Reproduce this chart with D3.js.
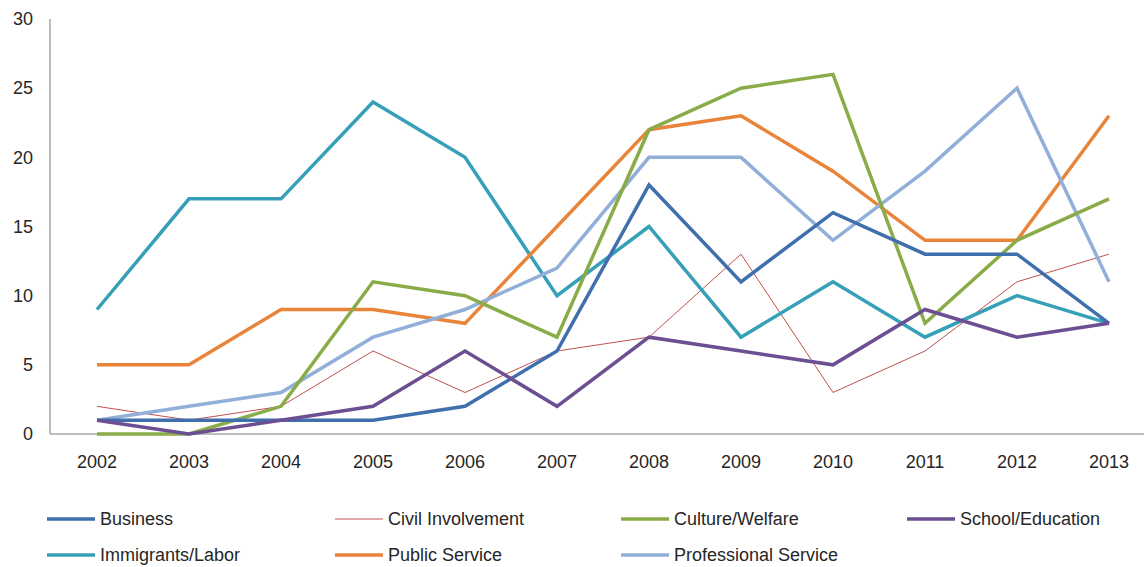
<!DOCTYPE html>
<html><head><meta charset="utf-8">
<script src="https://cdn.jsdelivr.net/npm/d3@7"></script>
<style>body{margin:0;background:#fff}svg{display:block}</style>
</head><body>
<svg id="chart" width="1144" height="567"></svg>
<script>
const years = ["2002","2003","2004","2005","2006","2007","2008","2009","2010","2011","2012","2013"];
const business = [1,1,1,1,2,6,18,11,16,13,13,8];
const civilInvolvement = [2,1,2,6,3,6,7,13,3,6,11,13];
const cultureWelfare = [0,0,2,11,10,7,22,25,26,8,14,17];
const schoolEducation = [1,0,1,2,6,2,7,6,5,9,7,8];
const immigrantsLabor = [9,17,17,24,20,10,15,7,11,7,10,8];
const publicService = [5,5,9,9,8,15,22,23,19,14,14,23];
const professionalService = [1,2,3,7,9,12,20,20,14,19,25,11];
const yTicks = [0,5,10,15,20,25,30];

const series = [
  {name:"Business", values:business, color:"#3f6fad", width:3.5},
  {name:"Civil Involvement", values:civilInvolvement, color:"#c0504d", width:1},
  {name:"Culture/Welfare", values:cultureWelfare, color:"#8aac48", width:3.5},
  {name:"School/Education", values:schoolEducation, color:"#6c4f92", width:3.5},
  {name:"Immigrants/Labor", values:immigrantsLabor, color:"#36a0b8", width:3.5},
  {name:"Public Service", values:publicService, color:"#e8853a", width:3.5},
  {name:"Professional Service", values:professionalService, color:"#92afd9", width:3.5}
];
const drawOrder = ["Civil Involvement","Immigrants/Labor","Public Service","Professional Service","Culture/Welfare","Business","School/Education"];

const svg = d3.select("#chart");
const font = "'Liberation Sans', Arial, sans-serif";
const x = d3.scalePoint().domain(years).range([97,1109]);
const y = d3.scaleLinear().domain([0,30]).range([434,19]);

svg.append("line").attr("x1",50).attr("x2",50).attr("y1",y(30)).attr("y2",y(0)).attr("stroke","#a6a6a6").attr("stroke-width",1.5);
svg.append("line").attr("x1",50).attr("x2",1144).attr("y1",y(0)).attr("y2",y(0)).attr("stroke","#a6a6a6").attr("stroke-width",1.5);

svg.append("g").selectAll("text").data(yTicks).join("text")
  .attr("x",33).attr("y",d=>y(d)).attr("dy","0.35em").attr("text-anchor","end")
  .attr("font-family",font).attr("font-size",18).attr("fill","#262626").text(d=>d);

svg.append("g").selectAll("text").data(years).join("text")
  .attr("x",d=>x(d)).attr("y",462).attr("dy","0.35em").attr("text-anchor","middle")
  .attr("font-family",font).attr("font-size",18).attr("fill","#262626").text(d=>d);

const line = d3.line().x((d,i)=>x(years[i])).y(d=>y(d));
const byName = Object.fromEntries(series.map(s=>[s.name,s]));
svg.append("g").selectAll("path").data(drawOrder.map(n=>byName[n])).join("path")
  .attr("d",s=>line(s.values)).attr("fill","none").attr("stroke",s=>s.color)
  .attr("stroke-width",s=>s.width).attr("stroke-linejoin","miter");

const legCols = [47,335,621,907];
const legRows = [519,555];
const lg = svg.append("g").selectAll("g").data(series).join("g")
  .attr("transform",(s,i)=>`translate(${legCols[i%4]},${legRows[Math.floor(i/4)]})`);
lg.append("line").attr("x1",0).attr("x2",48).attr("y1",0).attr("y2",0)
  .attr("stroke",s=>s.color).attr("stroke-width",s=>s.width);
lg.append("text").attr("x",53).attr("y",0).attr("dy","0.35em")
  .attr("font-family",font).attr("font-size",18).attr("fill","#262626").text(s=>s.name);
</script>
</body></html>
